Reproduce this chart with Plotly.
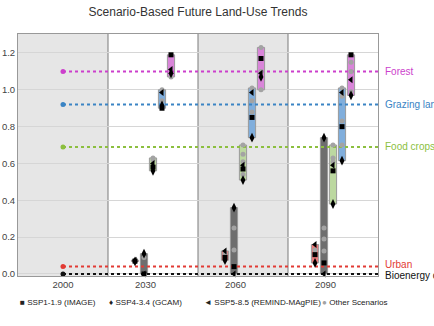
"""Scenario-based future land-use trends: range bars per scenario year."""
import plotly.graph_objects as go

# categories, in the order they sit inside each year group (left to right)
categories = ["Urban", "Bioenergy crops", "Food crops", "Grazing land", "Forest"]
baseline_2000 = [0.04, 0.0, 0.69, 0.92, 1.10]
years = [2030, 2060, 2090]
year_labels = ["2000", "2030", "2060", "2090"]

# scenario values per category, one entry per year in `years`
ssp1 = {
    "Urban": [0.07, 0.09, 0.105],
    "Bioenergy crops": [0.0, 0.04, 0.06],
    "Food crops": [0.58, 0.57, 0.56],
    "Grazing land": [0.90, 0.85, 0.80],
    "Forest": [1.19, 1.17, 1.19],
}
ssp4 = {
    "Urban": [0.068, 0.075, 0.06],
    "Bioenergy crops": [0.11, 0.36, 0.74],
    "Food crops": [0.56, 0.51, 0.38],
    "Grazing land": [0.915, 0.74, 0.615],
    "Forest": [1.09, 1.07, 0.97],
}
ssp5 = {
    "Urban": [0.075, 0.125, 0.16],
    "Bioenergy crops": [0.0, 0.0, 0.0],
    "Food crops": [0.60, 0.59, 0.59],
    "Grazing land": [0.985, 0.985, 0.985],
    "Forest": [1.11, 1.09, 1.055],
}
others = {
    "Urban": [[0.072], [0.11], [0.13]],
    "Bioenergy crops": [[0.09], [0.25, 0.13], [0.25, 0.19, 0.125]],
    "Food crops": [[0.63, 0.62], [0.70, 0.65, 0.61, 0.54], [0.70, 0.63, 0.61]],
    "Grazing land": [[1.0, 0.94], [1.01, 0.94, 0.88], [1.01, 0.965, 0.83, 0.70]],
    "Forest": [[1.07], [1.23, 1.10, 1.00], [1.15, 1.10, 0.99]],
}

legend_names = ["SSP1-1.9 (IMAGE)", "SSP4-3.4 (GCAM)", "SSP5-8.5 (REMIND-MAgPIE)", "Other Scenarios"]

line_colors = {
    "Urban": "#e23b34",
    "Bioenergy crops": "#111111",
    "Food crops": "#8cbf3f",
    "Grazing land": "#3a84c4",
    "Forest": "#cc3fcc",
}
bar_colors = {
    "Urban": "#e97b7b",
    "Bioenergy crops": "#6e6e6e",
    "Food crops": "#bcd8a0",
    "Grazing land": "#80aedc",
    "Forest": "#d985d9",
}
offsets = [-6, -3, 0, 3, 6]
FONT = "Arial, Liberation Sans, sans-serif"

fig = go.Figure()

# gray panels and separators
for x0 in (1985, 2045):
    fig.add_shape(type="rect", x0=x0, x1=x0 + 30, y0=0, y1=1, yref="paper",
                  fillcolor="#e6e6e6", line_width=0, layer="below")
for xs in (2015, 2045, 2075):
    fig.add_shape(type="line", x0=xs, x1=xs, y0=0, y1=1, yref="paper",
                  line=dict(color="#7a7a7a", width=1), layer="between")

# 2000 baselines as dotted reference lines
for cat, base in zip(categories, baseline_2000):
    fig.add_trace(go.Scatter(
        x=[2000, 2105], y=[base, base], mode="lines",
        line=dict(color=line_colors[cat], width=2, dash="dot"),
        showlegend=False, hoverinfo="skip", cliponaxis=False,
    ))
    fig.add_trace(go.Scatter(
        x=[2000], y=[base], mode="markers",
        marker=dict(color=line_colors[cat], size=5),
        showlegend=False, hoverinfo="skip", cliponaxis=False,
    ))

# range bars
for cat, off in zip(categories, offsets):
    lows, spans, xs = [], [], []
    for i, yr in enumerate(years):
        vals = [ssp1[cat][i], ssp4[cat][i], ssp5[cat][i]] + others[cat][i]
        lows.append(min(vals))
        spans.append(max(vals) - min(vals))
        xs.append(yr + off)
    fig.add_trace(go.Bar(
        x=xs, y=spans, base=lows, width=2.4,
        marker=dict(color=bar_colors[cat], line=dict(color="#9a9a9a", width=1)),
        showlegend=False, hoverinfo="skip",
    ))

# scenario markers
for cat, off in zip(categories, offsets):
    ox, oy = [], []
    for i, yr in enumerate(years):
        for v in others[cat][i]:
            ox.append(yr + off)
            oy.append(v)
    fig.add_trace(go.Scatter(x=ox, y=oy, mode="markers",
                             marker=dict(symbol="circle", size=5, color="#a3a3a3"),
                             showlegend=False, hoverinfo="skip"))
    xx = [yr + off for yr in years]
    fig.add_trace(go.Scatter(x=xx, y=ssp1[cat], mode="markers",
                             marker=dict(symbol="square", size=5, color="black"),
                             showlegend=False, hoverinfo="skip", cliponaxis=False))
    fig.add_trace(go.Scatter(x=xx, y=ssp4[cat], mode="markers",
                             marker=dict(symbol="diamond-tall", size=7, color="black"),
                             showlegend=False, hoverinfo="skip", cliponaxis=False))
    fig.add_trace(go.Scatter(x=xx, y=ssp5[cat], mode="markers",
                             marker=dict(symbol="triangle-left", size=6, color="black"),
                             showlegend=False, hoverinfo="skip", cliponaxis=False))

# category labels on the right
label_y = {"Urban": 0.05, "Bioenergy crops": -0.01}
for cat, base in zip(categories, baseline_2000):
    fig.add_annotation(x=1.014, xref="paper", y=label_y.get(cat, base), yref="y",
                       text=cat, showarrow=False, xanchor="left",
                       font=dict(size=10, color=line_colors[cat], family=FONT))

# legend row as text
legend_symbols = ["■", "♦", "◄", "<span style='color:#a3a3a3'>●</span>"]
legend_x = [0.0, 0.247, 0.511, 0.838]
for sym, name, lx in zip(legend_symbols, legend_names, legend_x):
    fig.add_annotation(x=lx, xref="paper", y=-0.136, yref="paper",
                       text=f"{sym} {name}", showarrow=False, xanchor="left",
                       font=dict(size=8.1, color="#222", family=FONT))

fig.update_layout(
    width=434, height=326,
    margin=dict(l=18, r=56, t=34, b=50, autoexpand=False),
    paper_bgcolor="white", plot_bgcolor="white",
    barmode="overlay",
    title=dict(text="Scenario-Based Future Land-Use Trends", x=0.5, xanchor="center",
               xref="paper", y=0.963, yanchor="middle",
               font=dict(size=12, color="#333", family=FONT)),
    font=dict(family=FONT),
    showlegend=False,
)
fig.update_xaxes(
    range=[1985, 2105], tickvals=[2000, 2027.5, 2057.5, 2087.5], ticktext=year_labels,
    showgrid=False, zeroline=False, showline=True, mirror=True, linecolor="#999",
    ticks="", tickfont=dict(size=9.5, color="#444"), automargin=False,
)
fig.update_yaxes(
    range=[-0.011, 1.303], tickvals=[0, 0.2, 0.4, 0.6, 0.8, 1.0, 1.2], tickformat=".1f",
    showgrid=True, gridcolor="#d6d6d6", zeroline=False, showline=True, mirror=True,
    linecolor="#999", ticks="", tickfont=dict(size=9.5, color="#444"), automargin=False,
)

# drop the page's default body margin so the figure sits at the window corner
fig.write_html("out.html", config={"displayModeBar": False},
               post_script="document.body.style.margin='0';")
